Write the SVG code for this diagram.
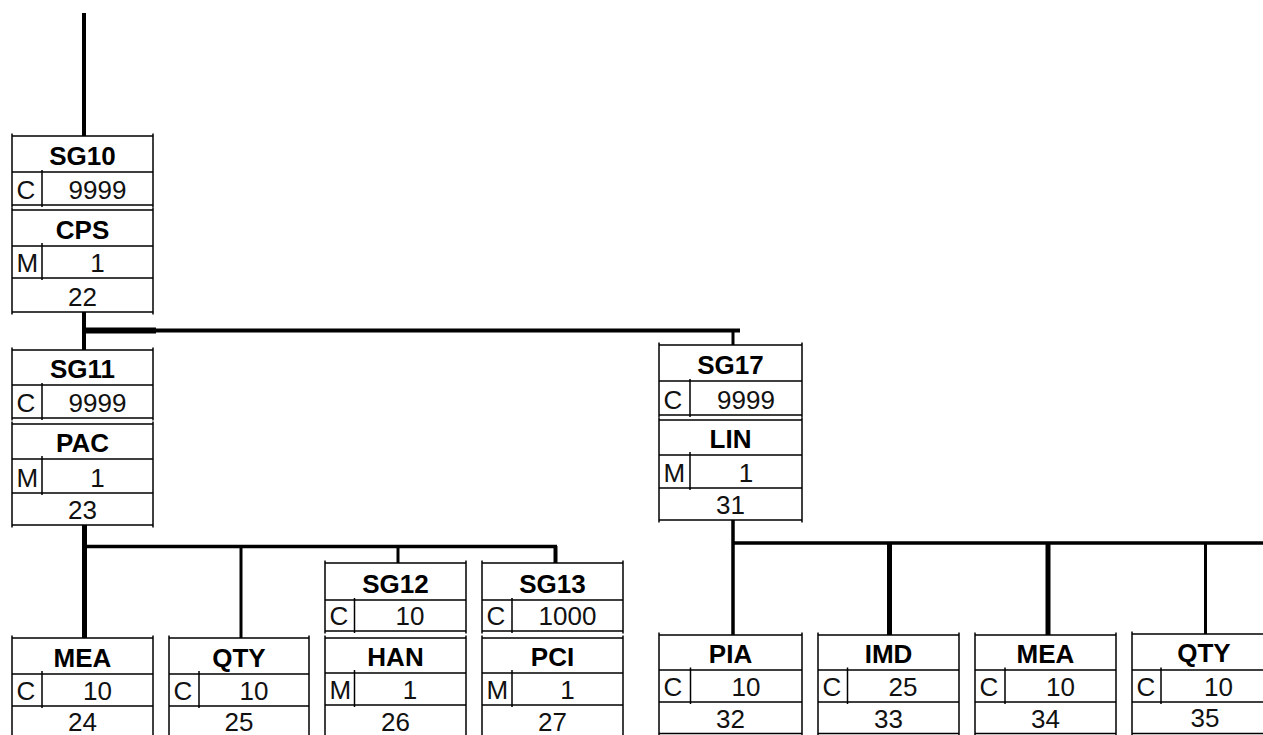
<svg xmlns="http://www.w3.org/2000/svg" width="1263" height="735" viewBox="0 0 1263 735">
<style>
.b{stroke:#000;stroke-width:1.5;fill:none}
.c{stroke:#000;fill:none}
text{font-family:"Liberation Sans",Arial,sans-serif;fill:#000}
.h{font-weight:bold;font-size:26px;text-anchor:middle}
.r{font-size:26px;fill:#111}
.m{text-anchor:middle}
</style>
<rect width="1263" height="735" fill="#fff"/>
<g id="connectors">
<line class="c" x1="84" y1="13" x2="84" y2="136" stroke-width="4"/>
<line class="c" x1="84" y1="312" x2="84" y2="350" stroke-width="4"/>
<line class="c" x1="84" y1="330.5" x2="740" y2="330.5" stroke-width="4"/>
<line class="c" x1="84" y1="330.5" x2="156" y2="330.5" stroke-width="6"/>
<line class="c" x1="733" y1="330" x2="733" y2="345" stroke-width="3"/>
<line class="c" x1="84.5" y1="525" x2="84.5" y2="638" stroke-width="5"/>
<line class="c" x1="84" y1="546.5" x2="557" y2="546.5" stroke-width="3.5"/>
<line class="c" x1="241" y1="546" x2="241" y2="638" stroke-width="3"/>
<line class="c" x1="398" y1="546" x2="398" y2="563" stroke-width="3"/>
<line class="c" x1="555.5" y1="546" x2="555.5" y2="563" stroke-width="4"/>
<line class="c" x1="733" y1="520" x2="733" y2="635" stroke-width="3.5"/>
<line class="c" x1="733" y1="543" x2="1263" y2="543" stroke-width="3.5"/>
<line class="c" x1="889.5" y1="543" x2="889.5" y2="635" stroke-width="5"/>
<line class="c" x1="1048" y1="543" x2="1048" y2="635" stroke-width="5"/>
<line class="c" x1="1205.5" y1="543" x2="1205.5" y2="634" stroke-width="3"/>
</g>
<g id="SG10">
<path class="b" d="M12 136H153M12 172H153M12 205H153M12 133.5V207.5M153 133.5V207.5M42 170V207"/>
<text class="h" x="82.5" y="164.5">SG10</text>
<text class="r" x="16.5" y="198.5">C</text>
<text class="r m" x="97.5" y="198.5">9999</text>
</g>
<g id="CPS">
<path class="b" d="M12 210H153M12 246H153M12 278H153M12 312H153M12 207.5V314.5M153 207.5V314.5M42 243V280"/>
<text class="h" x="82.5" y="238.5">CPS</text>
<text class="r" x="16.5" y="272">M</text>
<text class="r m" x="97.5" y="272">1</text>
<text class="r m" x="82.5" y="305.5">22</text>
</g>
<g id="SG11">
<path class="b" d="M12 350H153M12 385H153M12 418H153M12 347.5V420.5M153 347.5V420.5M42 383V420"/>
<text class="h" x="82.5" y="377.5">SG11</text>
<text class="r" x="16.5" y="411.5">C</text>
<text class="r m" x="97.5" y="411.5">9999</text>
</g>
<g id="PAC">
<path class="b" d="M12 424H153M12 459H153M12 493H153M12 525H153M12 421.5V527.5M153 421.5V527.5M42 456V495"/>
<text class="h" x="82.5" y="451.5">PAC</text>
<text class="r" x="16.5" y="486.5">M</text>
<text class="r m" x="97.5" y="486.5">1</text>
<text class="r m" x="82.5" y="519">23</text>
</g>
<g id="SG17">
<path class="b" d="M659 345H802M659 381H802M659 415H802M659 342.5V417.5M802 342.5V417.5M690 379V417"/>
<text class="h" x="730.5" y="373.5">SG17</text>
<text class="r" x="663.5" y="408.5">C</text>
<text class="r m" x="746" y="408.5">9999</text>
</g>
<g id="LIN">
<path class="b" d="M659 420H802M659 455H802M659 488H802M659 520H802M659 417.5V522.5M802 417.5V522.5M690 452V490"/>
<text class="h" x="730.5" y="447.5">LIN</text>
<text class="r" x="663.5" y="481.5">M</text>
<text class="r m" x="746" y="481.5">1</text>
<text class="r m" x="730.5" y="514">31</text>
</g>
<g id="MEA1">
<path class="b" d="M12 638H153M12 674H153M12 706H153M12 739H153M12 635.5V741M153 635.5V741M42 671V708"/>
<text class="h" x="82.5" y="666.5">MEA</text>
<text class="r" x="16.5" y="699.5">C</text>
<text class="r m" x="97.5" y="699.5">10</text>
<text class="r m" x="82.5" y="731">24</text>
</g>
<g id="QTY1">
<path class="b" d="M169 638H309M169 674H309M169 706H309M169 739H309M169 635.5V741M309 635.5V741M199 671V708"/>
<text class="h" x="239" y="666.5">QTY</text>
<text class="r" x="173.5" y="699.5">C</text>
<text class="r m" x="254" y="699.5">10</text>
<text class="r m" x="239" y="731">25</text>
</g>
<g id="SG12">
<path class="b" d="M325 563H466M325 600H466M325 631H466M325 560.5V633.5M466 560.5V633.5M354.5 598V633"/>
<text class="h" x="395.5" y="592.5">SG12</text>
<text class="r" x="329.5" y="624.5">C</text>
<text class="r m" x="410" y="624.5">10</text>
</g>
<g id="HAN">
<path class="b" d="M325 638H466M325 673H466M325 705H466M325 738H466M325 635.5V741M466 635.5V741M354.5 670V707"/>
<text class="h" x="395.5" y="665.5">HAN</text>
<text class="r" x="329.5" y="698.5">M</text>
<text class="r m" x="410" y="698.5">1</text>
<text class="r m" x="395.5" y="731">26</text>
</g>
<g id="SG13">
<path class="b" d="M482 563H623M482 600H623M482 631H623M482 560.5V633.5M623 560.5V633.5M512 598V633"/>
<text class="h" x="552.5" y="592.5">SG13</text>
<text class="r" x="486.5" y="624.5">C</text>
<text class="r m" x="567.5" y="624.5">1000</text>
</g>
<g id="PCI">
<path class="b" d="M482 638H623M482 673H623M482 705H623M482 738H623M482 635.5V741M623 635.5V741M512 670V707"/>
<text class="h" x="552.5" y="665.5">PCI</text>
<text class="r" x="486.5" y="698.5">M</text>
<text class="r m" x="567.5" y="698.5">1</text>
<text class="r m" x="552.5" y="731">27</text>
</g>
<g id="PIA">
<path class="b" d="M659 635H802M659 670H802M659 702H802M659 733.5H802M659 632.5V736M802 632.5V736M690.5 667.5V704"/>
<text class="h" x="730.5" y="662.5">PIA</text>
<text class="r" x="663.5" y="695.5">C</text>
<text class="r m" x="746" y="695.5">10</text>
<text class="r m" x="730.5" y="728">32</text>
</g>
<g id="IMD">
<path class="b" d="M818 635H959M818 670H959M818 702H959M818 733.5H959M818 632.5V736M959 632.5V736M847.5 667.5V704"/>
<text class="h" x="888.5" y="662.5">IMD</text>
<text class="r" x="822.5" y="695.5">C</text>
<text class="r m" x="903" y="695.5">25</text>
<text class="r m" x="888.5" y="728">33</text>
</g>
<g id="MEA2">
<path class="b" d="M975 635H1116M975 670H1116M975 702H1116M975 733.5H1116M975 632.5V736M1116 632.5V736M1005 667.5V704"/>
<text class="h" x="1045.5" y="662.5">MEA</text>
<text class="r" x="979.5" y="695.5">C</text>
<text class="r m" x="1060.5" y="695.5">10</text>
<text class="r m" x="1045.5" y="728">34</text>
</g>
<g id="QTY2">
<path class="b" d="M1132 634H1276M1132 670H1276M1132 702H1276M1132 733.5H1276M1132 631.5V736M1276 631.5V736M1161 667.5V704"/>
<text class="h" x="1204" y="661.5">QTY</text>
<text class="r" x="1136.5" y="695.5">C</text>
<text class="r m" x="1218.5" y="695.5">10</text>
<text class="r m" x="1205" y="727">35</text>
</g>
</svg>
